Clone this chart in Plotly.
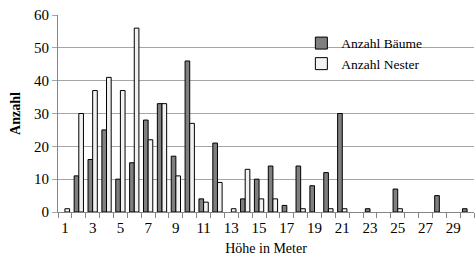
import plotly.graph_objects as go

hoehe = list(range(1, 31))
baeume = [0, 11, 16, 25, 10, 15, 28, 33, 17, 46, 4, 21, 0, 4, 10, 14, 2, 14, 8, 12, 30, 0, 1, 0, 7, 0, 0, 5, 0, 1]
nester = [1, 30, 37, 41, 37, 56, 22, 33, 11, 27, 3, 9, 1, 13, 4, 4, 0, 1, 0, 1, 1, 0, 0, 0, 1, 0, 0, 0, 0, 0]
tick_vals = list(range(1, 31, 2))
tick_text = [str(v) for v in tick_vals]

font = "Liberation Serif, Times New Roman, serif"

def hide_zero(vals):
    return [v if v else None for v in vals]

fig = go.Figure()
fig.add_trace(go.Bar(x=hoehe, y=hide_zero(baeume), name="Anzahl Bäume",
                     marker=dict(color="#7f7f7f", line=dict(color="#000000", width=1))))
fig.add_trace(go.Bar(x=hoehe, y=hide_zero(nester), name="Anzahl Nester",
                     marker=dict(color="#f2f2f2", line=dict(color="#000000", width=1))))

fig.update_layout(
    width=475, height=259,
    margin=dict(l=58, r=1, t=15, b=47),
    paper_bgcolor="white", plot_bgcolor="white",
    barmode="group", bargap=0.33, bargroupgap=0,
    font=dict(family=font, size=15, color="#000000"),
    legend=dict(x=0.585, y=0.935, xanchor="left", yanchor="top",
                bgcolor="rgba(0,0,0,0)", font=dict(size=13.5),
                itemwidth=30, tracegroupgap=0),
    xaxis=dict(range=[0.5, 30.5], tickmode="array", tickvals=tick_vals, ticktext=tick_text,
               ticks="", showgrid=False, showline=True, linecolor="#868686", linewidth=1,
               minor=dict(tick0=0.5, dtick=1, ticks="outside", ticklen=5, tickcolor="#868686", showgrid=False),
               title=dict(text="Höhe in Meter", font=dict(size=14), standoff=8),
               tickfont=dict(size=15), ticklabelstandoff=2, automargin=False),
    yaxis=dict(range=[0, 60], dtick=10, showgrid=True, gridcolor="#a6a6a6", gridwidth=1,
               showline=True, linecolor="#868686", zeroline=False,
               ticks="outside", ticklen=5, tickcolor="#a6a6a6",
               title=dict(text="<b>Anzahl</b>", font=dict(size=14), standoff=10),
               tickfont=dict(size=15), automargin=False),
)

fig.write_html("out.html", config={"displayModeBar": False},
               post_script="document.body.style.margin='0';")
